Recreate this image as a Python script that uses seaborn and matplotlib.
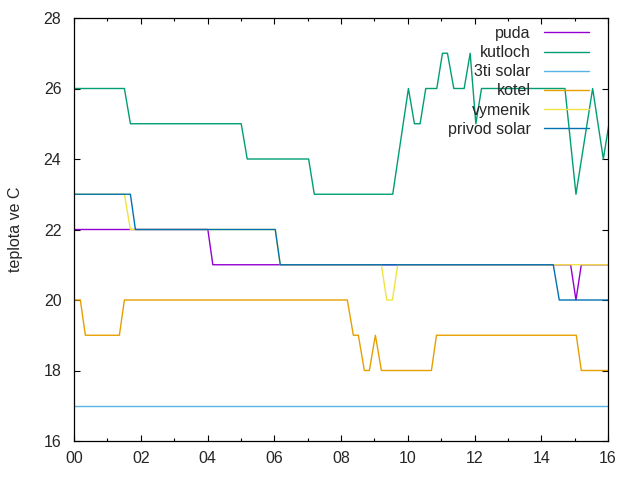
import matplotlib
matplotlib.use("Agg")
import matplotlib.pyplot as plt
from matplotlib.ticker import MultipleLocator, FuncFormatter
import seaborn as sns
import pandas as pd

# vrcholy car (cas v hodinach, teplota)
puda_t = [0, 4.01, 4.16, 14.88, 15.04, 15.20, 16]
puda_v = [22, 22, 21, 21, 20, 21, 21]

kutloch_t = [0, 1.51, 1.69, 5.01, 5.19, 7.03, 7.20, 9.55, 10.02, 10.20, 10.37, 10.54,
             10.87, 11.04, 11.19, 11.38, 11.69, 11.87, 12.04, 12.21, 14.71, 15.04,
             15.54, 15.86, 16.03]
kutloch_v = [26, 26, 25, 25, 24, 24, 23, 23, 26, 25, 25, 26,
             26, 27, 27, 26, 26, 27, 25, 26, 26, 23,
             26, 24, 25]

solar3_t = [0, 16]
solar3_v = [17, 17]

kotel_t = [0, 0.19, 0.34, 1.36, 1.51, 8.19, 8.37, 8.52, 8.70, 8.85, 9.03, 9.21,
           10.71, 10.86, 15.05, 15.20, 16]
kotel_v = [20, 20, 19, 19, 20, 20, 19, 19, 18, 18, 19, 18,
           18, 19, 19, 18, 18]

vymenik_t = [0, 1.51, 1.69, 6.03, 6.18, 9.21, 9.37, 9.54, 9.70, 16]
vymenik_v = [23, 23, 22, 22, 21, 21, 20, 20, 21, 21]

privod_t = [0, 1.69, 1.84, 6.03, 6.18, 14.36, 14.54, 16]
privod_v = [23, 23, 22, 22, 21, 21, 20, 20]

names = ["puda", "kutloch", "3ti solar", "kotel", "vymenik", "privod solar"]
colors = ["#9400d3", "#009e73", "#56b4e9", "#e69f00", "#f0e442", "#0072b2"]

series = [(puda_t, puda_v), (kutloch_t, kutloch_v), (solar3_t, solar3_v),
          (kotel_t, kotel_v), (vymenik_t, vymenik_v), (privod_t, privod_v)]

rows = []
for name, (ts, vs) in zip(names, series):
    for t, v in zip(ts, vs):
        rows.append({"cas": t, "teplota": v, "cidlo": name})
df = pd.DataFrame(rows)

sns.set_style("ticks")
plt.rcParams['font.family'] = ['Liberation Sans', 'DejaVu Sans']

fig = plt.figure(figsize=(6.4, 4.8), dpi=100)
ax = fig.add_axes([74 / 640, 39 / 480, 534 / 640, 423 / 480])

sns.lineplot(data=df, x="cas", y="teplota", hue="cidlo", hue_order=names,
             palette=colors, estimator=None, sort=False, linewidth=1.0,
             legend=False, ax=ax)

ax.set_xlim(0, 16)
ax.set_ylim(16, 28)
ax.xaxis.set_major_locator(MultipleLocator(2))
ax.xaxis.set_minor_locator(MultipleLocator(1))
ax.yaxis.set_major_locator(MultipleLocator(2))
ax.xaxis.set_major_formatter(FuncFormatter(lambda x, p: "%02d" % int(round(x))))
ax.tick_params(which="both", direction="in", top=True, right=True,
               labelsize=11.5, color="black", width=0.8)
ax.tick_params(which="major", length=4.5)
ax.tick_params(which="minor", length=2.5)
ax.tick_params(axis="x", which="major", pad=7)
ax.tick_params(axis="y", which="major", pad=9)
for s in ax.spines.values():
    s.set_visible(True)
    s.set_color("black")
    s.set_linewidth(0.9)

ax.set_xlabel("")
ax.set_ylabel("teplota ve C", fontsize=11.5)
ax.yaxis.set_label_coords(-0.095, 0.5)

leg = ax.legend(ax.lines[:6], names, loc="upper right", frameon=False,
                markerfirst=False, fontsize=11.5, handlelength=2.8,
                labelspacing=0.26, handletextpad=0.85,
                borderpad=0, borderaxespad=0,
                bbox_to_anchor=(589 / 640, 1 - 26 / 480),
                bbox_transform=fig.transFigure)

fig.savefig("out.png", dpi=100)
